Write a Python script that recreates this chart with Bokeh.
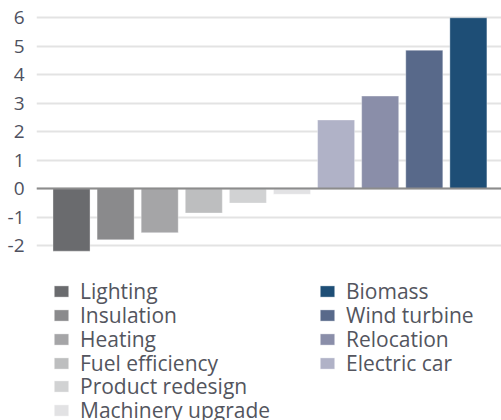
from bokeh.plotting import figure
from bokeh.models import (ColumnDataSource, Range1d, FixedTicker, Span, Legend, LegendItem)
from bokeh.embed import file_html
from bokeh.resources import INLINE

categories = ["Lighting", "Insulation", "Heating", "Fuel efficiency", "Product redesign",
              "Machinery upgrade", "Electric car", "Relocation", "Wind turbine", "Biomass"]
values = [-2.2, -1.8, -1.55, -0.86, -0.51, -0.2, 2.41, 3.25, 4.86, 6.0]
colors = ["#6a6b6e", "#8a8a8c", "#a5a5a7", "#bdbebf", "#d1d2d3", "#e2e2e4",
          "#b0b2c7", "#8a8ea9", "#58698a", "#1e4e76"]
y_ticks = [-2, -1, 0, 1, 2, 3, 4, 5, 6]
y_tick_labels = {-2: "-2", -1: "-1"}

left_legend = ["Lighting", "Insulation", "Heating", "Fuel efficiency", "Product redesign", "Machinery upgrade"]
right_legend = ["Biomass", "Wind turbine", "Relocation", "Electric car"]

source = ColumnDataSource(dict(x=list(range(len(categories))), top=values,
                               cat=categories, color=colors))

W, H = 501, 420
p = figure(width=W, height=H, output_backend="svg", toolbar_location=None,
           x_range=Range1d(-0.794, 9.751), y_range=Range1d(-8.149, 6.608),
           min_border_left=36, min_border_right=0, min_border_top=0, min_border_bottom=0)
p.outline_line_color = None
p.xaxis.visible = False
p.xgrid.visible = False

p.yaxis.ticker = FixedTicker(ticks=y_ticks)
p.yaxis.major_label_overrides = y_tick_labels
p.yaxis.axis_line_color = None
p.yaxis.major_tick_line_color = None
p.yaxis.minor_tick_line_color = None
p.yaxis.major_label_standoff = 6
p.yaxis.major_label_text_font = "Open Sans"
p.yaxis.major_label_text_font_size = "19px"
p.yaxis.major_label_text_color = "#4e5160"

p.ygrid.ticker = FixedTicker(ticks=y_ticks)
p.ygrid.grid_line_color = "#e3e3e3"
p.ygrid.grid_line_width = 2

r = p.vbar(x="x", top="top", bottom=0, width=0.84, color="color",
           line_color="white", line_alpha=0.35, line_width=1, source=source)

p.add_layout(Span(location=0, dimension="width", line_color="#8c8c8c", line_width=2))

idx = {c: i for i, c in enumerate(categories)}

ITEM_H = 30
ROW_Y = [291, 315, 339, 362.5, 386, 410]


def add_item(name, gx, cy):
    lg = Legend(items=[LegendItem(label=name, renderers=[r], index=idx[name])],
                location=(gx - 36, H - cy - ITEM_H / 2), orientation="vertical",
                glyph_width=18, glyph_height=14, label_standoff=10,
                label_height=ITEM_H, spacing=0, padding=0, margin=0,
                border_line_color=None, background_fill_alpha=0,
                label_text_font="Open Sans", label_text_font_size="21px",
                label_text_color="#53555e")
    p.add_layout(lg, "center")


for i, n in enumerate(left_legend):
    add_item(n, 52, ROW_Y[i])
for i, n in enumerate(right_legend):
    add_item(n, 318, ROW_Y[i])

open("out.html", "w").write(file_html(p, INLINE))
